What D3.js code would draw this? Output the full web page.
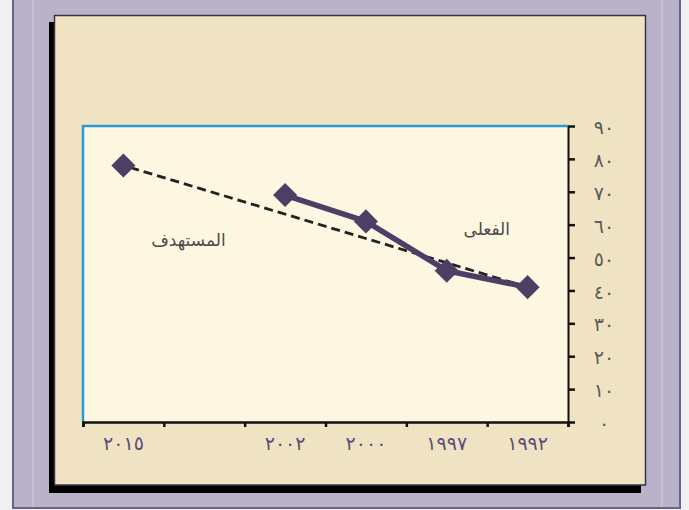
<!DOCTYPE html>
<html><head><meta charset="utf-8">
<script src="https://cdn.jsdelivr.net/npm/d3@7"></script>
<style>html,body{margin:0;padding:0;background:#efeff4;}svg{display:block;}</style>
</head><body>
<svg id="c" width="689" height="510"></svg>
<script>
const categories = ["١٩٩٢","١٩٩٧","٢٠٠٠","٢٠٠٢","","٢٠١٥"];
const actualYears = ["١٩٩٢","١٩٩٧","٢٠٠٠","٢٠٠٢"];
const actualValues = [41, 46, 61, 69];
const targetYears = ["١٩٩٢","٢٠١٥"];
const targetValues = [41, 78];
const yTicks = [0,10,20,30,40,50,60,70,80,90];
const yTickLabels = ["٠","١٠","٢٠","٣٠","٤٠","٥٠","٦٠","٧٠","٨٠","٩٠"];
const labelActual = "الفعلى";
const labelTarget = "المستهدف";

const svg = d3.select("#c");
// outer frame
svg.append("rect").attr("x",13).attr("y",-2).attr("width",667).attr("height",510)
  .attr("fill","#b9b3c9").attr("stroke","#6f6288").attr("stroke-width",2);
svg.append("line").attr("x1",33).attr("x2",33).attr("y1",0).attr("y2",507).attr("stroke","#d2cddd");
svg.append("line").attr("x1",662).attr("x2",662).attr("y1",0).attr("y2",507).attr("stroke","#d2cddd");
// shadow
svg.append("rect").attr("x",49).attr("y",22).attr("width",10).attr("height",471).attr("fill","#000");
svg.append("rect").attr("x",49).attr("y",480).attr("width",592).attr("height",13).attr("fill","#000");
// panel
svg.append("rect").attr("x",54.5).attr("y",15.5).attr("width",591).attr("height",469.5)
  .attr("fill","#efe3c4").attr("stroke","#3b3344").attr("stroke-width",1.5);

const L = 83, R = 568, T = 126, B = 422;
const x = d3.scaleBand().domain(categories).range([R, L]);
const xEdge = d3.scaleLinear().domain([0, categories.length]).range([R, L]);
const y = d3.scaleLinear().domain([0, 90]).range([B, T]);

// plot area
svg.append("rect").attr("x",L).attr("y",T).attr("width",R-L).attr("height",B-T).attr("fill","#fdf6e1");
svg.append("path").attr("d",`M${L},${B}V${T}H${R}`).attr("fill","none").attr("stroke","#2a9bd6").attr("stroke-width",2.5);

// y axis (right)
const gy = svg.append("g").attr("transform",`translate(${R},0)`)
  .call(d3.axisRight(y).tickValues(yTicks).tickSize(7).tickSizeOuter(0)
    .tickFormat((d,i)=>yTickLabels[i]));
gy.select(".domain").attr("stroke","#111").attr("stroke-width",2);
gy.selectAll(".tick line").attr("stroke","#111").attr("stroke-width",2.5);
gy.selectAll(".tick text").attr("x",36).attr("dy","0.4em").attr("text-anchor","middle")
  .attr("fill","#5a5a5a").attr("font-family","DejaVu Sans").attr("font-size",19)
  .attr("letter-spacing","3px");

// x axis ticks at band edges
const gx = svg.append("g").attr("transform",`translate(0,${B})`)
  .call(d3.axisBottom(xEdge).tickValues(d3.range(0, categories.length+1)).tickSize(5).tickFormat(""));
gx.select(".domain").attr("stroke","#111").attr("stroke-width",2.5);
gx.selectAll(".tick line").attr("stroke","#111").attr("stroke-width",2.5);
// x labels
const gxl = svg.append("g").attr("transform",`translate(0,${B})`)
  .call(d3.axisBottom(x).tickSize(0).tickPadding(15));
gxl.select(".domain").remove();
gxl.selectAll(".tick text").attr("fill","#5b4d78").attr("font-family","DejaVu Sans")
  .attr("font-size",19).attr("letter-spacing","4px");

const colM = "#4b3f66";
// target dashed line
const tgt = targetYears.map((c,i)=>({c, v: targetValues[i]}));
svg.append("path").datum(tgt)
  .attr("d", d3.line().x(d=>x(d.c)+x.bandwidth()/2).y(d=>y(d.v)))
  .attr("fill","none").attr("stroke","#222").attr("stroke-width",2.8).attr("stroke-dasharray","9,5");
// actual line
const act = actualYears.map((c,i)=>({c, v: actualValues[i]}));
svg.append("path").datum(act)
  .attr("d", d3.line().x(d=>x(d.c)+x.bandwidth()/2).y(d=>y(d.v)))
  .attr("fill","none").attr("stroke",colM).attr("stroke-width",5.5).attr("stroke-linejoin","round");

// markers
const markers = act.concat(tgt.filter(d=>!actualYears.includes(d.c)));
svg.selectAll(".mk").data(markers).enter().append("path")
  .attr("d", d3.symbol().type(d3.symbolSquare).size(290))
  .attr("transform", d=>`translate(${x(d.c)+x.bandwidth()/2},${y(d.v)}) rotate(45)`)
  .attr("fill", colM);

// series labels
svg.append("text").attr("x", x("٢٠١٥")+x.bandwidth()/2+65).attr("y", y(53.5))
  .attr("text-anchor","middle").attr("font-family","DejaVu Sans").attr("font-size",17)
  .attr("fill","#4a4a4a").text(labelTarget);
svg.append("text").attr("x", x("١٩٩٧")+x.bandwidth()/2+40).attr("y", y(57))
  .attr("text-anchor","middle").attr("font-family","DejaVu Sans").attr("font-size",17)
  .attr("fill","#4a4a4a").text(labelActual);
</script>
</body></html>
